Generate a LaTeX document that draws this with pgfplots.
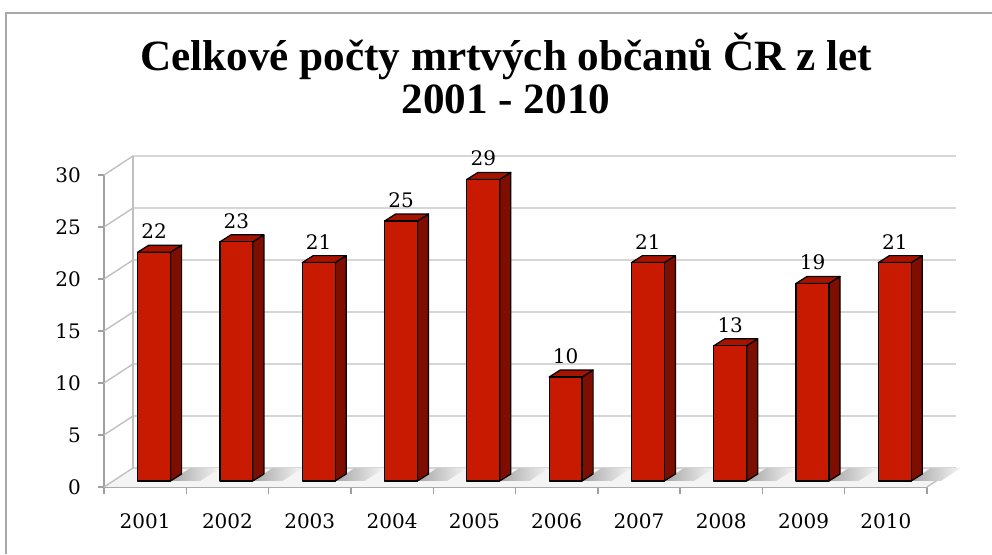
\documentclass[border=0pt]{standalone}
\usepackage{fontspec}
\setmainfont{Liberation Serif}
\newfontfamily\labelfont{DejaVu Serif}
\usepackage{pgfplots}
\usepackage{pgfplotstable}
\pgfplotsset{compat=1.18}

\definecolor{barfront}{RGB}{200,26,0}
\definecolor{barside}{RGB}{126,14,0}
\definecolor{bartop}{RGB}{166,20,0}
\definecolor{gridc}{RGB}{192,192,192}
\definecolor{axisc}{RGB}{160,160,160}
\definecolor{framec}{RGB}{168,168,168}
\definecolor{floorc}{RGB}{244,244,244}

% deaths per year
\pgfplotstableread{
n year deaths
0 2001 22
1 2002 23
2 2003 21
3 2004 25
4 2005 29
5 2006 10
6 2007 21
7 2008 13
8 2009 19
9 2010 21
}\deaths

% pseudo-3D geometry (data units)
\def\dx{0.352}   % depth of the floor, x
\def\dy{1.83}    % depth of the floor, y
\def\bx{0.109}   % bar front centre offset
\def\by{0.58}    % bar base above front edge
\def\bw{0.2}     % half bar width
\def\sx{0.134}   % bar depth, x
\def\sy{0.67}    % bar depth, y

\begin{document}
\begin{tikzpicture}
\path[use as bounding box] (0,0) rectangle (496pt,277pt);
% outer frame
\draw[framec, line width=0.8pt] (3pt,0pt) -- (3pt,270.5pt) -- (496pt,270.5pt);
% title
\node[anchor=base, font=\fontsize{21.6}{24}\selectfont\bfseries] at (253pt,242pt)
  {Celkové počty mrtvých občanů ČR z let};
\node[anchor=base, font=\fontsize{21.6}{24}\selectfont\bfseries] at (253pt,220.5pt)
  {2001 - 2010};

\begin{axis}[
  at={(52pt,33.5pt)}, anchor=south west,
  scale only axis, width=411.5pt, height=156pt,
  xmin=-0.5, xmax=9.5, ymin=0, ymax=30,
  clip=false,
  axis x line*=bottom, axis y line*=left,
  axis line style={axisc, line width=0.7pt},
  /pgf/number format/assume math mode=true,
  xtick={0,...,9},
  xticklabels={2001,2002,2003,2004,2005,2006,2007,2008,2009,2010},
  minor xtick={-0.5,0.5,...,9.5},
  ytick={0,5,...,30},
  tick align=outside,
  major tick length=3pt,
  minor tick length=3.5pt,
  x tick style={draw=none},
  minor x tick style={draw=axisc, line width=0.7pt},
  y tick style={axisc, line width=0.7pt},
  tick label style={font=\labelfont\fontsize{10}{12}\selectfont, text=black},
  xticklabel style={yshift=-7pt},
  yticklabel style={xshift=-5pt},
]
% floor
\addplot[draw=none, fill=floorc] coordinates {(-0.5,0) (9.5,0) (9.852,1.83) (-0.148,1.83)} -- cycle;
\addplot[gridc, line width=0.7pt] coordinates {(9.5,0) (9.852,1.83)};
% back wall gridlines with side diagonals
\pgfplotsforeachungrouped \v in {0,5,...,30}{
  \pgfmathsetmacro\gy{\v+\dy}
  \edef\tmp{\noexpand\addplot[gridc, line width=0.7pt] coordinates {(-0.5,\v) (-0.148,\gy) (9.852,\gy)};}
  \tmp
}
\addplot[gridc, line width=0.7pt] coordinates {(-0.148,1.83) (-0.148,31.83)};
% floor shadows
\pgfplotsforeachungrouped \k in {0,...,9}{
  \pgfmathsetmacro\xr{\k+\bx+\bw}
  \pgfmathsetmacro\xra{\xr+0.36}
  \pgfmathsetmacro\xrc{\xr+0.24}
  \pgfmathsetmacro\xrd{\xr+0.60}
  \edef\tmp{\noexpand\addplot[draw=none, left color=gray!70, right color=floorc] coordinates {(\xr,\by) (\xra,\by) (\xrd,\dy) (\xrc,\dy)} -- cycle;}
  \tmp
}
% bars: side, top, front
\pgfplotsforeachungrouped \k in {0,...,9}{
  \pgfplotstablegetelem{\k}{deaths}\of\deaths
  \pgfmathsetmacro\yt{\pgfplotsretval+\by}
  \pgfmathsetmacro\ytb{\pgfplotsretval+\by+\sy}
  \pgfmathsetmacro\ybb{\by+\sy}
  \pgfmathsetmacro\xl{\k+\bx-\bw}
  \pgfmathsetmacro\xr{\k+\bx+\bw}
  \pgfmathsetmacro\xlb{\xl+\sx}
  \pgfmathsetmacro\xrb{\xr+\sx}
  \edef\tmp{%
    \noexpand\addplot[fill=barside, draw=black, line width=0.6pt, line join=round] coordinates {(\xr,\by) (\xr,\yt) (\xrb,\ytb) (\xrb,\ybb)} -- cycle;
    \noexpand\addplot[fill=bartop, draw=black, line width=0.6pt, line join=round] coordinates {(\xl,\yt) (\xr,\yt) (\xrb,\ytb) (\xlb,\ytb)} -- cycle;
    \noexpand\addplot[fill=barfront, draw=black, line width=0.6pt, line join=round] coordinates {(\xl,\by) (\xr,\by) (\xr,\yt) (\xl,\yt)} -- cycle;
  }
  \tmp
}
% value labels
\addplot[draw=none, mark=none,
  nodes near coords={\pgfplotspointmeta},
  point meta=explicit symbolic,
  nodes near coords style={anchor=south, inner sep=1pt, yshift=2pt,
    font=\labelfont\fontsize{10}{12}\selectfont, text=black}]
  table[x expr=\thisrow{n}+\bx, y expr=\thisrow{deaths}+\by+\sy, meta=deaths] {\deaths};
\end{axis}
\end{tikzpicture}
\end{document}
